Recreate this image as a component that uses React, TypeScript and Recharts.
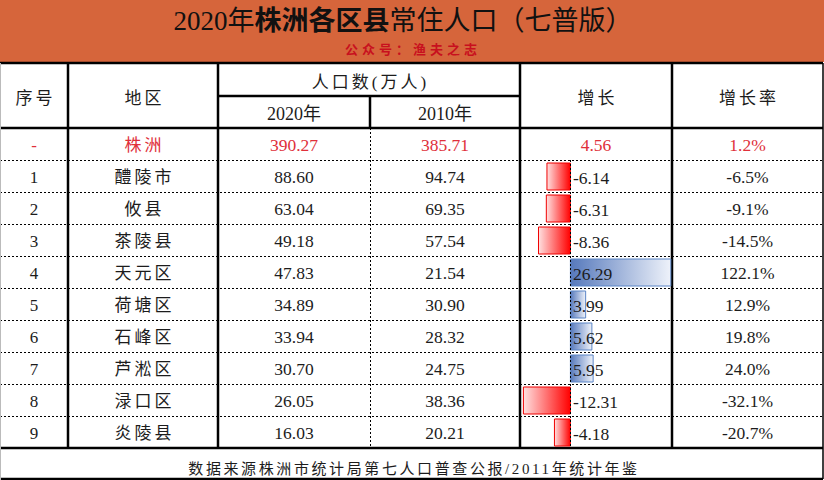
import React from 'react';
import { BarChart, Bar, XAxis, YAxis, Cell, LabelList, ReferenceLine } from 'recharts';

// ---------- data ----------
const seqLabels = ['-', '1', '2', '3', '4', '5', '6', '7', '8', '9'];
const regions = ['株洲', '醴陵市', '攸县', '茶陵县', '天元区', '荷塘区', '石峰区', '芦淞区', '渌口区', '炎陵县'];
const pop2020 = [390.27, 88.6, 63.04, 49.18, 47.83, 34.89, 33.94, 30.7, 26.05, 16.03];
const pop2010 = [385.71, 94.74, 69.35, 57.54, 21.54, 30.9, 28.32, 24.75, 38.36, 20.21];
const growth = [4.56, -6.14, -6.31, -8.36, 26.29, 3.99, 5.62, 5.95, -12.31, -4.18];
const growthRate = [1.2, -6.5, -9.1, -14.5, 122.1, 12.9, 19.8, 24.0, -32.1, -20.7];
const hasDataBar = [false, true, true, true, true, true, true, true, true, true];

const titleParts = ['2020年', '株洲各区县', '常住人口（七普版）'];
const subtitle = '公众号：渔夫之志';
const headerSeq = '序号';
const headerRegion = '地区';
const headerPop = '人口数(万人)';
const headerY2020 = '2020年';
const headerY2010 = '2010年';
const headerGrowth = '增长';
const headerRate = '增长率';
const footerText = '数据来源株洲市统计局第七人口普查公报/2011年统计年鉴';

const data = regions.map((name, i) => ({
  name,
  bar: hasDataBar[i] ? growth[i] : null,
}));

// ---------- layout ----------
const W = 824;
const H = 480;
const COLS = [0, 68, 218, 370, 520, 672, 823];
const HEADER_TOP = 63;
const HEADER_MID = 96;
const HEADER_BOTTOM = 128;
const ROW_H = 32;
const BODY_BOTTOM = HEADER_BOTTOM + ROW_H * regions.length;
const FOOT_BOTTOM = 479;
const FONT = "'Liberation Serif', 'Noto Sans CJK SC', serif";
const TEXT = '#1c1c1c';
const RED_TEXT = '#E0303A';
const Y_AXIS_W = 40;

const mid = (a: number, b: number) => (a + b) / 2;

function TableFrame() {
  const thick = 2.5;
  const rowLines: React.ReactNode[] = [];
  for (let i = 1; i < regions.length; i++) {
    const y = HEADER_BOTTOM + i * ROW_H + 0.5;
    rowLines.push(
      <line key={'r' + i} x1={0} x2={COLS[6]} y1={y} y2={y} stroke="#000" strokeWidth={1} strokeDasharray="2 2" />
    );
  }
  return (
    <g>
      <rect x={0} y={0} width={W} height={HEADER_TOP - 1} fill="#D6653B" />
      <text x={403} y={30} textAnchor="middle" fontSize={27} fill="#111" fontFamily={FONT}>
        <tspan>{titleParts[0]}</tspan>
        <tspan fontWeight="bold">{titleParts[1]}</tspan>
        <tspan>{titleParts[2]}</tspan>
      </text>
      <text x={413} y={54} textAnchor="middle" fontSize={13} fontWeight="bold" fill="#C8101E" letterSpacing={4} fontFamily={FONT}>
        {subtitle}
      </text>

      <rect x={0} y={HEADER_TOP} width={W} height={H - HEADER_TOP} fill="#fff" />
      {rowLines}
      <line x1={COLS[3] + 0.5} x2={COLS[3] + 0.5} y1={HEADER_BOTTOM} y2={BODY_BOTTOM} stroke="#000" strokeWidth={1} strokeDasharray="2 2" />

      {/* header texts */}
      <g fontFamily={FONT} fontSize={17} fill={TEXT} textAnchor="middle" letterSpacing={3}>
        <text x={mid(COLS[0], COLS[1]) + 1.5} y={104}>{headerSeq}</text>
        <text x={mid(COLS[1], COLS[2]) + 1.5} y={104}>{headerRegion}</text>
        <text x={mid(COLS[2], COLS[4]) + 1.5} y={88}>{headerPop}</text>
        <text x={mid(COLS[4], COLS[5]) + 1.5} y={104}>{headerGrowth}</text>
        <text x={mid(COLS[5], COLS[6]) + 1.5} y={104}>{headerRate}</text>
      </g>
      <g fontFamily={FONT} fontSize={18} fill={TEXT} textAnchor="middle">
        <text x={mid(COLS[2], COLS[3])} y={120}>{headerY2020}</text>
        <text x={mid(COLS[3], COLS[4])} y={120}>{headerY2010}</text>
      </g>
      <text x={414} y={474} textAnchor="middle" fontSize={15} fill={TEXT} letterSpacing={2.6} fontFamily={FONT}>
        {footerText}
      </text>

      {/* solid lines */}
      <g stroke="#000" strokeWidth={thick}>
        <line x1={0} x2={COLS[6]} y1={HEADER_TOP} y2={HEADER_TOP} />
        <line x1={0} x2={COLS[6]} y1={HEADER_BOTTOM} y2={HEADER_BOTTOM} />
        <line x1={0} x2={COLS[6]} y1={BODY_BOTTOM} y2={BODY_BOTTOM} />
        <line x1={0} x2={COLS[6]} y1={FOOT_BOTTOM} y2={FOOT_BOTTOM} />
        <line x1={COLS[2]} x2={COLS[4]} y1={HEADER_MID} y2={HEADER_MID} />
        <line x1={COLS[3]} x2={COLS[3]} y1={HEADER_MID} y2={HEADER_BOTTOM} />
        {[1, 2, 4, 5].map((c) => (
          <line key={'v' + c} x1={COLS[c]} x2={COLS[c]} y1={HEADER_TOP} y2={BODY_BOTTOM} />
        ))}
      </g>
      <line x1={0.5} x2={0.5} y1={HEADER_TOP} y2={H} stroke="#bbb" strokeWidth={1} />
      <line x1={COLS[6]} x2={COLS[6]} y1={HEADER_TOP} y2={FOOT_BOTTOM} stroke="#000" strokeWidth={1.5} />
    </g>
  );
}

function RowTick(props: any) {
  const { y, payload } = props;
  const i = regions.indexOf(payload.value);
  if (i < 0) return null;
  const color = i === 0 ? RED_TEXT : TEXT;
  const by = y + 7;
  return (
    <g fontFamily={FONT} fill={color} textAnchor="middle">
      <text x={mid(COLS[0], COLS[1])} y={by} fontSize={17}>{seqLabels[i]}</text>
      <text x={mid(COLS[1], COLS[2]) + 1.5} y={by} fontSize={17} letterSpacing={3}>{regions[i]}</text>
      <text x={mid(COLS[2], COLS[3])} y={by} fontSize={17.5}>{pop2020[i].toFixed(2)}</text>
      <text x={mid(COLS[3], COLS[4])} y={by} fontSize={17.5}>{pop2010[i].toFixed(2)}</text>
      {!hasDataBar[i] && (
        <text x={mid(COLS[4], COLS[5])} y={by} fontSize={17.5}>{growth[i].toFixed(2)}</text>
      )}
      <text x={mid(COLS[5], COLS[6])} y={by} fontSize={17.5}>{growthRate[i].toFixed(1) + '%'}</text>
    </g>
  );
}

function GrowthLabel(props: any) {
  const { value } = props;
  if (value == null) return null;
  const vb = props.viewBox ?? props;
  const x = Number(vb.x);
  const w = Number(vb.width);
  const y = Number(vb.y);
  const h = Number(vb.height);
  const zero = value < 0 ? Math.max(x, x + w) : Math.min(x, x + w);
  return (
    <text x={zero + 2.5} y={y + h / 2 + 7} fontSize={17.5} fontFamily={FONT} fill={TEXT} textAnchor="start">
      {Number(value).toFixed(2)}
    </text>
  );
}

function ZeroAxis(p: any) {
  const top = Math.min(p.y1, p.y2) + ROW_H;
  const bottom = Math.max(p.y1, p.y2);
  const x = Math.round(p.x1) + 0.5;
  return <line x1={x} x2={x} y1={top} y2={bottom} stroke="#000" strokeWidth={1} strokeDasharray="2 2" />;
}

export default function App() {
  return (
    <div style={{ position: 'absolute', left: 0, top: 0, width: W, height: H, background: '#fff' }}>
      <BarChart
        width={W}
        height={H}
        data={data}
        layout="vertical"
        margin={{ top: HEADER_BOTTOM, bottom: H - BODY_BOTTOM, left: COLS[4] - Y_AXIS_W, right: W - COLS[5] }}
        barSize={27}
      >
        <defs>
          <linearGradient id="negGrad" x1="0" y1="0" x2="1" y2="0">
            <stop offset="0%" stopColor="#FFE0E0" />
            <stop offset="100%" stopColor="#FF0000" />
          </linearGradient>
          <linearGradient id="posGrad" x1="0" y1="0" x2="1" y2="0">
            <stop offset="0%" stopColor="#5679BC" />
            <stop offset="100%" stopColor="#EEF2FA" />
          </linearGradient>
        </defs>
        <TableFrame />
        <XAxis type="number" domain={[-13.2, 26.6]} hide />
        <YAxis
          type="category"
          dataKey="name"
          width={Y_AXIS_W}
          axisLine={false}
          tickLine={false}
          interval={0}
          tick={<RowTick />}
        />
        <Bar dataKey="bar" isAnimationActive={false}>
          {data.map((d, i) => (
            <Cell
              key={i}
              fill={(d.bar ?? 0) < 0 ? 'url(#negGrad)' : 'url(#posGrad)'}
              stroke={(d.bar ?? 0) < 0 ? '#F00000' : '#5B85C6'}
              strokeWidth={1}
            />
          ))}
          <LabelList dataKey="bar" content={<GrowthLabel />} />
        </Bar>
        <ReferenceLine x={0} stroke="#000" shape={<ZeroAxis />} />
      </BarChart>
    </div>
  );
}
